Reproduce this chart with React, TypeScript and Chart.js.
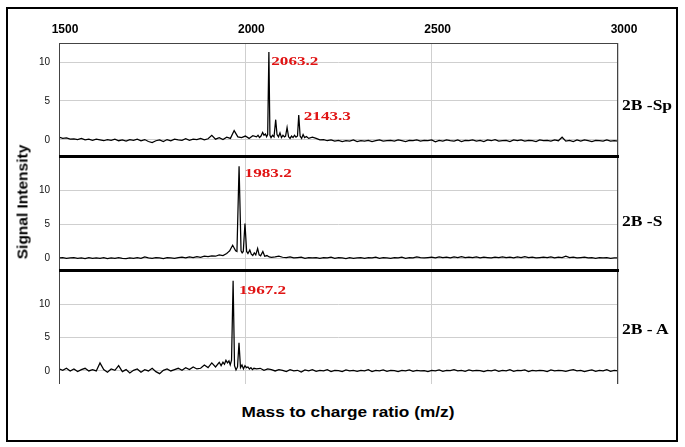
import React, { useEffect, useRef } from "react";
import { Chart, registerables } from "chart.js";

Chart.register(...registerables);

// ---------------- data ----------------
const MZ_MIN = 1500;
const MZ_MAX = 3000;
const MZ_TICKS = [1500, 2000, 2500, 3000];
const INTENSITY_TICKS = [0, 5, 10];
const BASELINE_START = 1500;
const BASELINE_STEP = 10;

const PANEL_NAMES = ["2B -Sp", "2B -S", "2B - A"];
const PANEL_Y_MIN = [-2.06, -1.72, -1.95];
const PANEL_Y_MAX = [12.44, 15.0, 15.1];

// 2B -Sp
const spBaseline = [
  0.35, 0.2, 0.25, 0.1, 0.15, 0.05, 0.2, 0.0, 0.1, -0.05,
  0.1, 0.0, -0.1, 0.05, -0.05, 0.1, -0.1, 0.0, -0.15, 0.05,
  -0.05, 0.1, -0.1, 0.05, -0.2, -0.35, -0.1, 0.0, -0.2, 0.05,
  -0.1, 0.1, 0.0, -0.05, 0.15, -0.05, 0.1, 0.05, 0.2, 0.0,
  0.15, 0.6, 0.1, 0.3, 0.05, 0.35, 0.2, 1.2, 0.4, 0.3,
  0.5, 0.2, 0.55, 0.3, 0.6, 0.4, 0.8, 0.5, 1.0, 0.4,
  0.6, 0.4, 0.7, 0.3, 0.5, 0.4, 0.6, 0.3, 0.35, 0.2,
  0.0, 0.05, -0.1, 0.0, -0.15, -0.05, -0.2, -0.1, -0.15, 0.0,
  -0.2, -0.1, -0.15, -0.05, -0.2, -0.1, 0.0, -0.15, -0.1, -0.05,
  -0.15, 0.0, -0.1, -0.2, -0.05, -0.1, 0.0, -0.15, -0.05, -0.1,
  0.0, -0.25, -0.05, -0.15, 0.0, -0.1, -0.15, 0.0, -0.2, -0.05,
  -0.1, 0.0, -0.15, -0.05, -0.2, 0.0, -0.1, 0.05, -0.15, -0.1,
  -0.05, -0.2, 0.0, -0.1, 0.0, -0.15, -0.05, -0.1, -0.2, 0.0,
  -0.1, -0.05, -0.15, 0.0, -0.1, 0.35, -0.15, -0.05, -0.2, 0.0,
  -0.15, 0.0, -0.1, -0.2, -0.05, -0.1, -0.15, 0.0, -0.15, -0.1,
  -0.15,
];
const spPeakMz = [
  2030, 2034, 2038, 2042, 2046.5, 2050, 2054, 2057, 2060, 2063.2,
  2066, 2069, 2073, 2077, 2081.5, 2085, 2089, 2093, 2097, 2101,
  2105, 2108, 2112, 2116, 2120, 2124, 2128, 2132, 2136, 2140,
  2143.3, 2147, 2151, 2155, 2159, 2164, 2170,
];
const spPeakIntensity = [
  0.4, 0.6, 0.3, 0.5, 0.95, 0.6, 0.75, 0.4, 0.7, 11.3,
  0.6, 0.3, 0.6, 0.4, 2.6, 0.7, 0.4, 0.9, 0.3, 0.6,
  0.4, 0.5, 1.6, 0.4, 0.2, 0.5, 0.3, 0.6, 0.35, 0.5,
  3.2, 0.5, 0.2, 0.7, 0.3, 0.45, 0.2,
];
const spLabelText = ["2063.2", "2143.3"];
const spLabelMz = [2069.6, 2156.7];
const spLabelY = [10.0, 3.0];

// 2B -S
const sBaseline = [
  0.05, 0.1, 0.0, 0.05, 0.1, 0.0, 0.05, -0.05, 0.1, 0.0,
  0.05, 0.0, 0.1, -0.05, 0.05, 0.0, 0.1, 0.0, -0.05, 0.05,
  0.0, 0.1, 0.0, 0.2, 0.05, 0.0, 0.1, 0.05, -0.05, 0.1,
  0.05, 0.0, 0.1, 0.15, 0.05, 0.2, 0.1, 0.25, 0.15, 0.3,
  0.25, 0.35, 0.3, 0.5, 0.4, 0.55, 0.7, 0.6, 0.9, 1.2,
  1.0, 1.2, 0.8, 1.4, 0.5, 0.9, 0.3, 0.4, 0.2, 0.3,
  0.15, 0.1, 0.2, 0.05, 0.1, 0.15, 0.0, 0.1, 0.05, 0.1,
  0.0, 0.1, 0.05, 0.15, 0.0, 0.1, 0.05, -0.05, 0.1, 0.0,
  0.05, 0.1, 0.0, 0.1, 0.05, 0.15, 0.0, 0.1, 0.05, 0.0,
  0.1, 0.05, 0.15, 0.0, 0.1, 0.05, 0.2, 0.1, 0.05, 0.1,
  0.15, 0.05, 0.2, 0.1, 0.15, 0.05, 0.2, 0.1, 0.25, 0.1,
  0.15, 0.1, 0.2, 0.05, 0.15, 0.1, 0.05, 0.15, 0.1, 0.2,
  0.1, 0.15, 0.05, 0.2, 0.1, 0.25, 0.1, 0.15, 0.05, 0.1,
  0.15, 0.1, 0.2, 0.05, 0.15, 0.1, 0.3, 0.1, 0.15, 0.05,
  0.1, 0.15, 0.05, 0.1, 0.0, 0.1, 0.05, 0.1, 0.0, 0.05,
  0.05,
];
const sPeakMz = [
  1950, 1954, 1958, 1962, 1966, 1970, 1974, 1977.5, 1983.2, 1988.5,
  1991.5, 1994.5, 1999, 2003.5, 2007, 2012, 2016, 2020, 2024, 2028,
  2033, 2037, 2041, 2047, 2052, 2058, 2064, 2070,
];
const sPeakIntensity = [
  0.7, 0.9, 1.1, 1.5, 1.9, 1.5, 1.1, 1.0, 13.5, 1.1,
  0.8, 1.0, 5.1, 1.0, 0.7, 1.2, 0.6, 0.4, 0.8, 0.5,
  1.45, 0.5, 0.35, 1.0, 0.3, 0.4, 0.2, 0.15,
];
const sLabelText = ["1983.2"];
const sLabelMz = [1998];
const sLabelY = [12.5];

// 2B - A
const aBaseline = [
  0.3, 0.1, 0.4, 0.0, 0.3, -0.1, 0.2, 0.4, 0.0, 0.2,
  0.0, 1.2, 0.2, -0.2, 0.3, 0.1, 0.8, -0.1, 0.2, -0.3,
  0.1, 0.3, -0.2, 0.2, 0.0, 0.4, -0.1, -0.4, 0.1, 0.3,
  0.0, 0.2, 0.4, 0.1, 0.5, 0.2, 0.6, 0.3, 0.4, 0.9,
  0.5, 1.2, 0.6, 1.3, 0.8, 1.0, 1.3, 0.9, 1.6, 0.5,
  0.6, 0.3, 0.5, 0.2, 0.4, 0.1, 0.3, 0.2, 0.0, 0.2,
  0.1, -0.1, 0.2, 0.0, 0.1, -0.15, 0.15, 0.0, 0.2, -0.05,
  0.1, 0.0, 0.2, -0.1, 0.1, 0.05, -0.1, 0.15, 0.0, 0.1,
  -0.05, 0.1, 0.0, 0.2, -0.1, 0.1, 0.0, 0.15, -0.05, 0.1,
  0.05, -0.1, 0.1, 0.0, 0.15, -0.05, 0.1, 0.0, 0.05, -0.1,
  0.1, 0.0, 0.15, -0.05, 0.1, 0.05, 0.2, 0.0, 0.1, -0.05,
  0.15, 0.0, 0.1, 0.05, -0.1, 0.1, 0.0, 0.15, -0.05, 0.1,
  0.0, 0.2, -0.05, 0.1, 0.05, 0.15, -0.1, 0.1, 0.0, 0.1,
  0.05, -0.1, 0.15, 0.0, 0.1, 0.05, -0.05, 0.1, 0.2, 0.0,
  0.1, -0.1, 0.05, 0.15, -0.05, 0.1, 0.0, 0.2, -0.05, 0.1,
  0.0,
];
const aPeakMz = [
  1935, 1940, 1944, 1948, 1952, 1956, 1959.5, 1963, 1967.2, 1971,
  1975, 1979, 1983, 1987, 1991, 1995, 1999, 2003, 2007, 2011,
  2015, 2019, 2023, 2030,
];
const aPeakIntensity = [
  0.8, 1.3, 1.0, 1.6, 1.2, 1.5, 0.9, 1.6, 13.5, 0.8,
  0.15, 0.6, 4.2, 0.5, 0.9, 0.3, 0.8, 0.5, 0.6, 0.3,
  0.5, 0.2, 0.4, 0.3,
];
const aLabelText = ["1967.2"];
const aLabelMz = [1983];
const aLabelY = [12.0];

const BASELINES = [spBaseline, sBaseline, aBaseline];
const PEAK_MZ = [spPeakMz, sPeakMz, aPeakMz];
const PEAK_I = [spPeakIntensity, sPeakIntensity, aPeakIntensity];
const LABEL_TEXT = [spLabelText, sLabelText, aLabelText];
const LABEL_MZ = [spLabelMz, sLabelMz, aLabelMz];
const LABEL_Y = [spLabelY, sLabelY, aLabelY];

// ---------------- layout / style ----------------
const W = 685;
const H = 447;
const PLOT_LEFT = 59;
const PLOT_RIGHT = 618;
const PANEL_TOP = [0, 156, 270];
const PANEL_H = [156, 114, 114];
const X_AXIS_H = 43;
const SANS = "'Liberation Sans', Arial, sans-serif";
const SERIF = "'Liberation Serif', 'Times New Roman', serif";
const GRID = "#cfcfcf";

Chart.defaults.font.family = SANS;

function buildSpectrum(baseline: number[], peakMz: number[], peakI: number[]) {
  const lo = peakMz[0];
  const hi = peakMz[peakMz.length - 1];
  const pts: { x: number; y: number }[] = [];
  baseline.forEach((v, i) => {
    const mz = BASELINE_START + i * BASELINE_STEP;
    if (mz < lo || mz > hi) pts.push({ x: mz, y: v });
  });
  peakMz.forEach((mz, i) => pts.push({ x: mz, y: peakI[i] }));
  pts.sort((a, b) => a.x - b.x);
  return pts;
}

function Panel({ index }: { index: number }) {
  const ref = useRef<HTMLCanvasElement>(null);
  const showX = index === 0;
  useEffect(() => {
    const canvas = ref.current!;
    const labels = LABEL_TEXT[index].map((t, i) => ({
      text: t,
      mz: LABEL_MZ[index][i],
      y: LABEL_Y[index][i],
    }));
    const framePlugin = {
      id: "frame",
      afterDraw(chart: any) {
        const { ctx, chartArea: a } = chart;
        ctx.save();
        ctx.strokeStyle = "#444";
        ctx.lineWidth = 1;
        ctx.strokeRect(a.left + 0.5, a.top + 0.5, a.right - a.left - 1, a.bottom - a.top);
        ctx.restore();
      },
    };
    const labelPlugin = {
      id: "peakLabels",
      afterDatasetsDraw(chart: any) {
        const { ctx, scales } = chart;
        ctx.save();
        ctx.fillStyle = "#e01414";
        ctx.font = `bold 13.5px ${SERIF}`;
        ctx.textBaseline = "middle";
        ctx.textAlign = "left";
        for (const l of labels) {
          const px = scales.x.getPixelForValue(l.mz);
          const py = scales.y.getPixelForValue(l.y);
          ctx.save();
          ctx.translate(px, py);
          ctx.scale(1.27, 1);
          ctx.fillText(l.text, 0, 0);
          ctx.restore();
        }
        ctx.restore();
      },
    };
    const chart = new Chart(canvas, {
      type: "line",
      data: {
        datasets: [
          {
            data: buildSpectrum(BASELINES[index], PEAK_MZ[index], PEAK_I[index]),
            borderColor: "#000",
            borderWidth: 1.25,
            pointRadius: 0,
            tension: 0,
            fill: false,
          },
        ],
      },
      options: {
        animation: false,
        responsive: false,
        events: [],
        layout: { padding: { left: 0, right: W - PLOT_RIGHT, top: 0, bottom: 0 } },
        plugins: { legend: { display: false }, tooltip: { enabled: false } },
        scales: {
          x: {
            type: "linear",
            position: "top",
            min: MZ_MIN,
            max: MZ_MAX,
            afterBuildTicks: (s: any) => {
              s.ticks = MZ_TICKS.map((v) => ({ value: v }));
            },
            afterFit: (s: any) => {
              s.height = showX ? X_AXIS_H : 0;
              s.paddingLeft = 0;
              s.paddingRight = 0;
            },
            grid: { color: GRID, lineWidth: 1, drawTicks: false },
            border: { display: false },
            ticks: {
              display: showX,
              color: "#000",
              font: { size: 12, weight: "bold", family: SANS },
              padding: 6,
              labelOffset: 6,
              maxRotation: 0,
              autoSkip: false,
              callback: (v: any) => String(v),
            },
          },
          y: {
            type: "linear",
            min: PANEL_Y_MIN[index],
            max: PANEL_Y_MAX[index],
            afterBuildTicks: (s: any) => {
              s.ticks = INTENSITY_TICKS.map((v) => ({ value: v }));
            },
            afterFit: (s: any) => {
              s.width = PLOT_LEFT;
              s.paddingTop = 0;
              s.paddingBottom = 0;
            },
            grid: { color: GRID, lineWidth: 1, drawTicks: false },
            border: { display: false },
            ticks: {
              color: "#111",
              font: { size: 10, family: SANS },
              padding: 9,
              callback: (v: any) => String(v),
            },
          },
        },
      },
      plugins: [labelPlugin, framePlugin],
    } as any);
    return () => chart.destroy();
  }, [index]);
  return (
    <canvas
      ref={ref}
      width={W}
      height={PANEL_H[index]}
      style={{
        position: "absolute",
        left: 0,
        top: PANEL_TOP[index],
        width: W,
        height: PANEL_H[index],
        display: "block",
      }}
    />
  );
}

const NAME_CENTER_Y = [106, 222, 329.5];

export default function App() {
  return (
    <div
      style={{
        position: "absolute",
        left: 0,
        top: 0,
        width: W,
        height: H,
        background: "#fff",
        overflow: "hidden",
      }}
    >
      <div
        style={{
          position: "absolute",
          left: 6,
          top: 7,
          width: 672,
          height: 435,
          border: "2px solid #000",
          boxSizing: "border-box",
        }}
      />
      {[0, 1, 2].map((i) => (
        <Panel key={i} index={i} />
      ))}
      <div style={{ position: "absolute", left: PLOT_LEFT, width: PLOT_RIGHT - PLOT_LEFT + 1, top: 155, height: 3, background: "#000" }} />
      <div style={{ position: "absolute", left: PLOT_LEFT, width: PLOT_RIGHT - PLOT_LEFT + 1, top: 269, height: 3, background: "#000" }} />
      {PANEL_NAMES.map((n, i) => (
        <div
          key={n}
          style={{
            position: "absolute",
            left: 622,
            top: NAME_CENTER_Y[i],
            transform: "translateY(-50%) scaleX(1.25)",
            transformOrigin: "left center",
            font: `bold 14px ${SERIF}`,
            color: "#000",
            whiteSpace: "pre",
            lineHeight: "16px",
          }}
        >
          {n}
        </div>
      ))}
      <div
        style={{
          position: "absolute",
          left: 22,
          top: 202,
          transform: "translate(-50%, -50%) rotate(-90deg)",
          font: `bold 15.5px ${SANS}`,
          color: "#000",
          whiteSpace: "nowrap",
          lineHeight: "17px",
        }}
      >
        Signal Intensity
      </div>
      <div
        style={{
          position: "absolute",
          left: 348,
          top: 410.5,
          transform: "translate(-50%, -50%) scaleX(1.15)",
          font: `bold 15px ${SANS}`,
          color: "#000",
          whiteSpace: "nowrap",
          lineHeight: "17px",
        }}
      >
        Mass to charge ratio (m/z)
      </div>
    </div>
  );
}
